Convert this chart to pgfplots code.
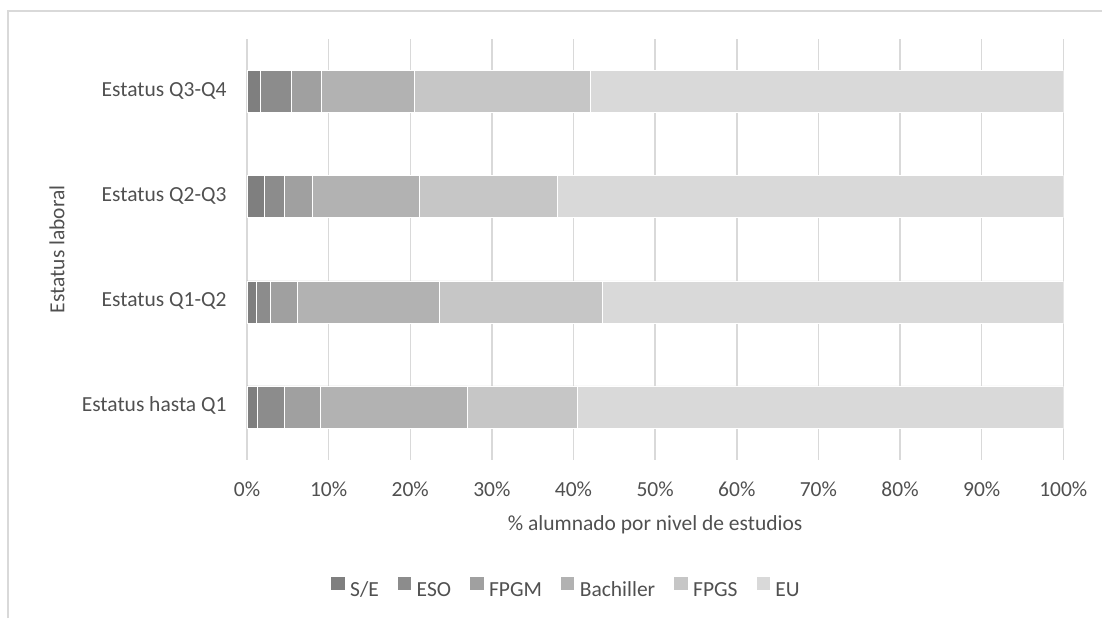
\documentclass[border=0pt]{standalone}
\usepackage{fontspec}
\setmainfont{Carlito}
\usepackage{pgfplots}
\pgfplotsset{compat=1.18}
\definecolor{txt}{HTML}{505050}
\definecolor{cSE}{HTML}{7F7F7F}
\definecolor{cESO}{HTML}{8C8C8C}
\definecolor{cFPGM}{HTML}{A0A0A0}
\definecolor{cBach}{HTML}{B2B2B2}
\definecolor{cFPGS}{HTML}{C6C6C6}
\definecolor{cEU}{HTML}{D9D9D9}
\definecolor{gridc}{HTML}{D9D9D9}
\newcommand{\cf}{\fontsize{21.5}{25}\selectfont}
\begin{document}
\begin{tikzpicture}[x=1pt,y=1pt]
\useasboundingbox (0,0) rectangle (1102,618);
\draw[gridc, line width=1.5pt] (8,0) -- (8,607) -- (1102,607);
\begin{axis}[
  at={(247pt,158.5pt)}, anchor=south west,
  scale only axis, width=816.3pt, height=420.5pt,
  xbar stacked, bar width=42pt,
  xmin=0, xmax=100, ymin=-0.5, ymax=3.5,
  ytick={0,1,2,3},
  yticklabels={Estatus hasta Q1, Estatus Q1-Q2, Estatus Q2-Q3, Estatus Q3-Q4},
  xtick={0,10,20,30,40,50,60,70,80,90,100},
  xticklabels={0\%,10\%,20\%,30\%,40\%,50\%,60\%,70\%,80\%,90\%,100\%},
  major tick length=0pt,
  axis line style={draw=none},
  xmajorgrids, grid style={gridc, line width=1.5pt},
  tick label style={font=\cf, text=txt},
  xticklabel style={anchor=base, inner sep=0pt, yshift=-36.5pt},
  yticklabel style={anchor=base east, inner sep=0pt, xshift=-20.3pt, yshift=-5pt},
  label style={font=\cf, text=txt},
  xlabel={\% alumnado por nivel de estudios},
  xlabel style={at={(axis description cs:0.5,-0.1677)}, anchor=base},
  ylabel={Estatus laboral},
  ylabel style={at={(axis description cs:-0.2328,0.5)}, anchor=center},
  legend columns=6,
  legend style={at={(axis description cs:0.3908,-0.3056)}, anchor=center,
    draw=none, fill=none, font=\cf, text=txt,
    /tikz/every odd column/.append style={column sep=3pt},
    /tikz/every even column/.append style={column sep=16pt},
    nodes={inner sep=2pt}},
  legend image code/.code={\fill[#1] (0pt,-0.5pt) rectangle (14.5pt,14pt);},
]
\addplot[fill=cSE, draw=white, line width=0.4pt] coordinates {(1.3,0) (1.1,1) (2.1,2) (1.6,3)};
\addplot[fill=cESO, draw=white, line width=0.4pt] coordinates {(3.3,0) (1.8,1) (2.5,2) (3.8,3)};
\addplot[fill=cFPGM, draw=white, line width=0.4pt] coordinates {(4.35,0) (3.3,1) (3.4,2) (3.7,3)};
\addplot[fill=cBach, draw=white, line width=0.4pt] coordinates {(18.05,0) (17.3,1) (13.1,2) (11.4,3)};
\addplot[fill=cFPGS, draw=white, line width=0.4pt] coordinates {(13.4,0) (20.0,1) (16.9,2) (21.5,3)};
\addplot[fill=cEU, draw=white, line width=0.4pt] coordinates {(59.6,0) (56.5,1) (62.0,2) (58.0,3)};
\legend{S/E, ESO, FPGM, Bachiller, FPGS, EU}
\end{axis}
\end{tikzpicture}
\end{document}
